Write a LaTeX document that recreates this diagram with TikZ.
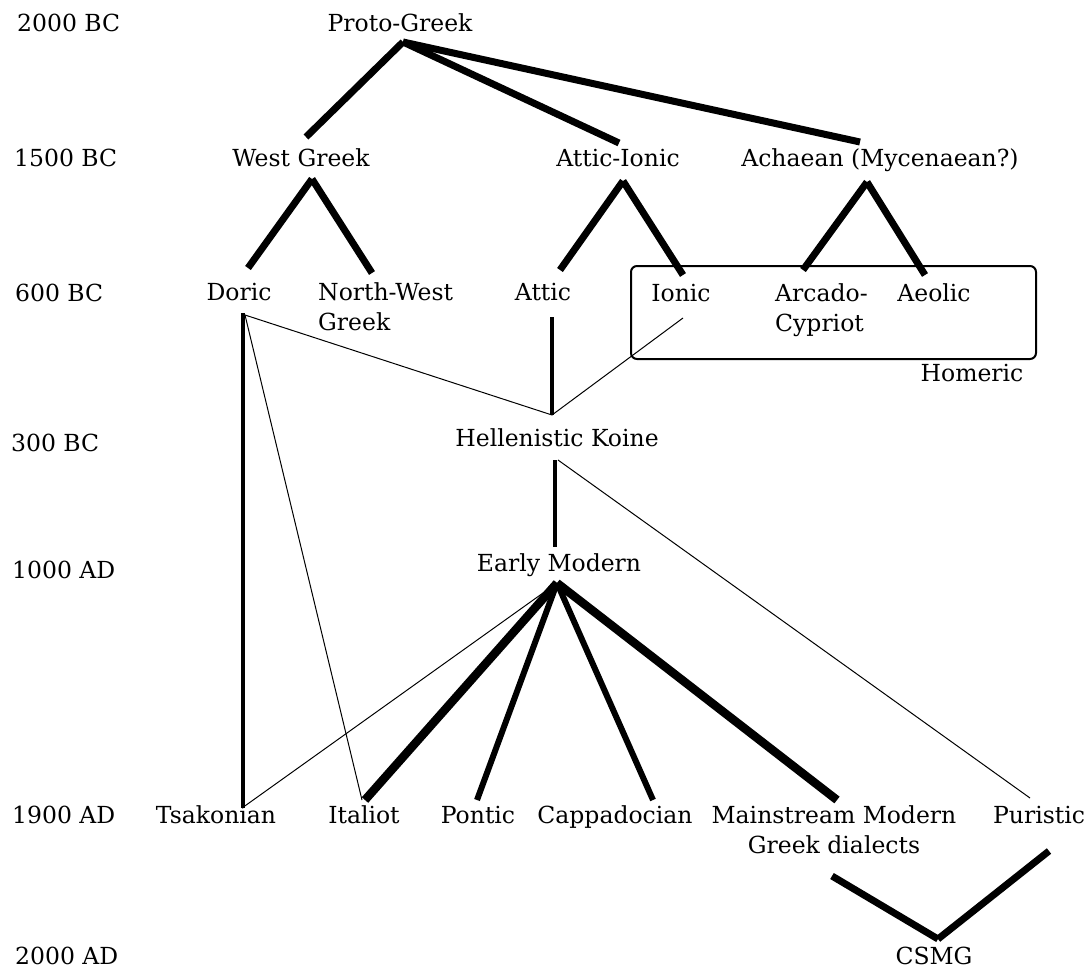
\documentclass[tikz,border=0pt]{standalone}
\usepackage{fontspec}
\setmainfont{DejaVu Serif}
\begin{document}
\begin{tikzpicture}[x=1pt,y=-1pt,
  lbl/.style={font=\fontsize{23.5}{30}\selectfont, inner sep=0pt, anchor=base},
  timelbl/.style={lbl, anchor=base west},
  heavy/.style={line width=7pt, line cap=butt},
  heavier/.style={line width=8.5pt, line cap=butt},
  medium/.style={line width=6pt, line cap=butt},
  vert/.style={line width=4.7pt, line cap=butt},
  thinline/.style={line width=1pt},
  groupbox/.style={draw, line width=2pt, rounded corners=6pt, inner sep=0pt}]
\useasboundingbox (0,0) rectangle (1090,972);
% time labels
\node[timelbl] (t2000bc) at (17,31) {2000 BC};
\node[timelbl] (t1500bc) at (14,166) {1500 BC};
\node[timelbl] (t600bc) at (15,301) {600 BC};
\node[timelbl] (t300bc) at (11,451) {300 BC};
\node[timelbl] (t1000ad) at (12,578) {1000 AD};
\node[timelbl] (t1900ad) at (12,823) {1900 AD};
\node[timelbl] (t2000ad) at (15,964) {2000 AD};
% nodes
\node[lbl] (proto) at (400,31) {Proto-Greek};
\node[lbl] (west) at (301,166) {West Greek};
\node[lbl] (atticionic) at (618,166) {Attic-Ionic};
\node[lbl] (achaean) at (880,166) {Achaean (Mycenaean?)};
\node[lbl] (doric) at (239,300) {Doric};
\node[lbl, anchor=base west, align=left] (nw) at (318,330) {North-West\\Greek};
\node[lbl] (attic) at (543,300) {Attic};
\node[lbl] (ionic) at (681,301) {Ionic};
\node[lbl, anchor=base west, align=left] (arcado) at (775,331) {Arcado-\\Cypriot};
\node[lbl] (aeolic) at (934,301) {Aeolic};
\node[groupbox, minimum width=405pt, minimum height=93pt] (homericbox) at (833.5,312.5) {};
\node[lbl] (homeric) at (972,381) {Homeric};
\node[lbl] (koine) at (557,446) {Hellenistic Koine};
\node[lbl] (early) at (559,571) {Early Modern};
\node[lbl] (tsakonian) at (216,823) {Tsakonian};
\node[lbl] (italiot) at (364,823) {Italiot};
\node[lbl] (pontic) at (478,823) {Pontic};
\node[lbl] (cappadocian) at (615,823) {Cappadocian};
\node[lbl, align=center] (mainstream) at (834,853) {Mainstream Modern\\Greek dialects};
\node[lbl] (puristic) at (1039,823) {Puristic};
\node[lbl] (csmg) at (934,964) {CSMG};
% connector points
\coordinate (protoB) at (403,42);
\coordinate (westT) at (306,137);
\coordinate (aiT) at (619,143);
\coordinate (achT) at (860,142);
\coordinate (westB) at (312,179);
\coordinate (doricT) at (248,268);
\coordinate (nwT) at (372,273);
\coordinate (aiB) at (623,181);
\coordinate (atticT) at (560,270);
\coordinate (ionicT) at (683,275);
\coordinate (achB) at (867,182);
\coordinate (arcT) at (803,270);
\coordinate (aeoT) at (925,275);
\coordinate (doricB) at (243,313);
\coordinate (doricBt) at (245,315);
\coordinate (tsakT) at (243,808);
\coordinate (tsakTt) at (242,808);
\coordinate (atticB) at (552,317);
\coordinate (koineT) at (552,415);
\coordinate (ionicB) at (683,318);
\coordinate (koineB) at (555,460);
\coordinate (koineBt) at (558,460);
\coordinate (earlyT) at (555,547);
\coordinate (earlyB) at (557,583);
\coordinate (italT) at (365,800);
\coordinate (italTt) at (362,800);
\coordinate (ponT) at (477,800);
\coordinate (capT) at (653,800);
\coordinate (mainT) at (837,800);
\coordinate (purT) at (1030,798);
\coordinate (mainB) at (832,876);
\coordinate (csmgT) at (938,939);
\coordinate (purB) at (1049,851);
% thick connectors
\draw[heavy] (protoB) -- (westT);
\draw[heavy] (protoB) -- (aiT);
\draw[heavy] (protoB) -- (achT);
\draw[heavy] (westB) -- (doricT);
\draw[heavy] (westB) -- (nwT);
\draw[heavy] (aiB) -- (atticT);
\draw[heavy] (aiB) -- (ionicT);
\draw[heavy] (achB) -- (arcT);
\draw[heavy] (achB) -- (aeoT);
\draw[vert] (doricB) -- (tsakT);
\draw[vert] (atticB) -- (koineT);
\draw[vert] (koineB) -- (earlyT);
\draw[heavier] (earlyB) -- (italT);
\draw[medium] (earlyB) -- (ponT);
\draw[medium] (earlyB) -- (capT);
\draw[heavier] (earlyB) -- (mainT);
\draw[heavy] (mainB) -- (csmgT);
\draw[heavy] (csmgT) -- (purB);
% thin connectors
\draw[thinline] (doricBt) -- (koineT);
\draw[thinline] (ionicB) -- (koineT);
\draw[thinline] (doricBt) -- (italTt);
\draw[thinline] (koineBt) -- (purT);
\draw[thinline] (earlyB) -- (tsakTt);
\end{tikzpicture}
\end{document}
